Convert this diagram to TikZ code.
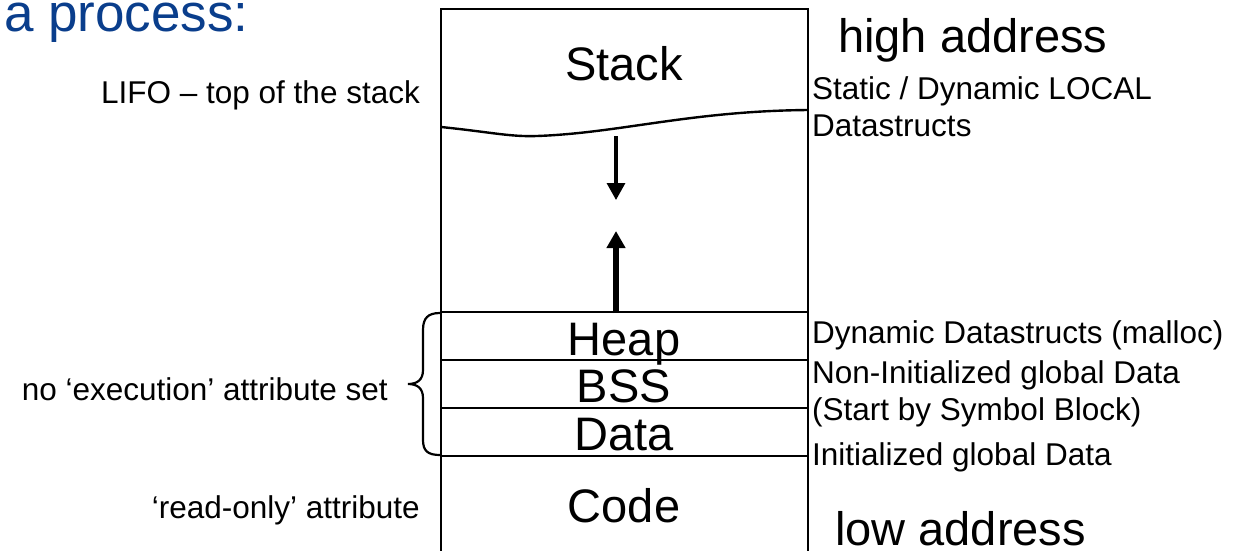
\documentclass[tikz,border=0pt]{standalone}
\usepackage{fontspec}
\setmainfont{Liberation Sans}
\usetikzlibrary{arrows.meta}
\definecolor{titleblue}{RGB}{10,62,140}
\tikzset{
  big/.style={font=\fontsize{47}{47}\selectfont, inner sep=0pt},
  small/.style={font=\fontsize{31.5}{31.5}\selectfont, inner sep=0pt},
  boxline/.style={line width=2.8pt},
  sepline/.style={line width=2.4pt},
  growarrow/.style={-{Triangle[length=17pt,width=18pt]}},
}
\begin{document}
\begin{tikzpicture}[x=1pt,y=-1pt]
\useasboundingbox (0,0) rectangle (1247,550);
\clip (0,0) rectangle (1247,550);
% title
\node[font=\fontsize{53}{53}\selectfont, text=titleblue, inner sep=0pt, anchor=base west] (title) at (4,31) {a process:};
% main box
\coordinate (tl) at (441,9);
\coordinate (tr) at (808,9);
\coordinate (bl) at (441,560);
\coordinate (br) at (808,560);
\draw[boxline] (bl) -- (tl) -- (tr) -- (br);
% wavy stack boundary
\draw[sepline] (441,127) .. controls (490,132) and (510,137) .. (537,136)
  .. controls (620,133) and (690,111) .. (808,110);
% separators
\coordinate (h1l) at (441,312); \coordinate (h1r) at (808,312);
\coordinate (h2l) at (441,360); \coordinate (h2r) at (808,360);
\coordinate (h3l) at (441,408); \coordinate (h3r) at (808,408);
\coordinate (h4l) at (441,456); \coordinate (h4r) at (808,456);
\draw[sepline] (h1l) -- (h1r);
\draw[sepline] (h2l) -- (h2r);
\draw[sepline] (h3l) -- (h3r);
\draw[sepline] (h4l) -- (h4r);
% arrows
\coordinate (ds) at (616,136);
\coordinate (de) at (616,200);
\coordinate (us) at (616,313);
\coordinate (ue) at (616,231);
\draw[line width=3.2pt,growarrow] (ds) -- (de);
\draw[line width=5.5pt,growarrow] (us) -- (ue);
% segment labels
\node[big, anchor=base] (stack) at (624,80) {Stack};
\node[big, anchor=base] (heap) at (624,355) {Heap};
\node[big, anchor=base] (bss) at (624,402) {BSS};
\node[big, anchor=base] (data) at (624,450) {Data};
\node[big, anchor=base] (code) at (624,522) {Code};
% brace
\coordinate (bt) at (440,313);
\coordinate (bb) at (440,455);
\coordinate (btip) at (408,384);
\draw[line width=2.2pt] (bt) .. controls (428,313) and (423,318) .. (423,330)
  -- (423,370) .. controls (423,380) and (417,384) .. (btip)
  .. controls (417,384) and (423,388) .. (423,398)
  -- (423,440) .. controls (423,451) and (428,455) .. (bb);
% left labels
\node[small, anchor=base east] (lifo) at (420,103) {LIFO – top of the stack};
\node[small, anchor=base east] (noexec) at (388,400) {no ‘execution’ attribute set};
\node[small, anchor=base east] (ro) at (420,518) {‘read-only’ attribute};
% right labels
\node[big, anchor=base west] (high) at (838,52) {high address};
\node[big, anchor=base west] (low) at (835,545) {low address};
\node[small, anchor=base west] (sd1) at (812,99) {Static / Dynamic LOCAL};
\node[small, anchor=base west] (sd2) at (812,136) {Datastructs};
\node[small, anchor=base west] (dyn) at (812,343) {Dynamic Datastructs (malloc)};
\node[small, anchor=base west] (nonini) at (812,383) {Non-Initialized global Data};
\node[small, anchor=base west] (sbsb) at (812,420) {(Start by Symbol Block)};
\node[small, anchor=base west] (ini) at (812,465) {Initialized global Data};
\end{tikzpicture}
\end{document}
